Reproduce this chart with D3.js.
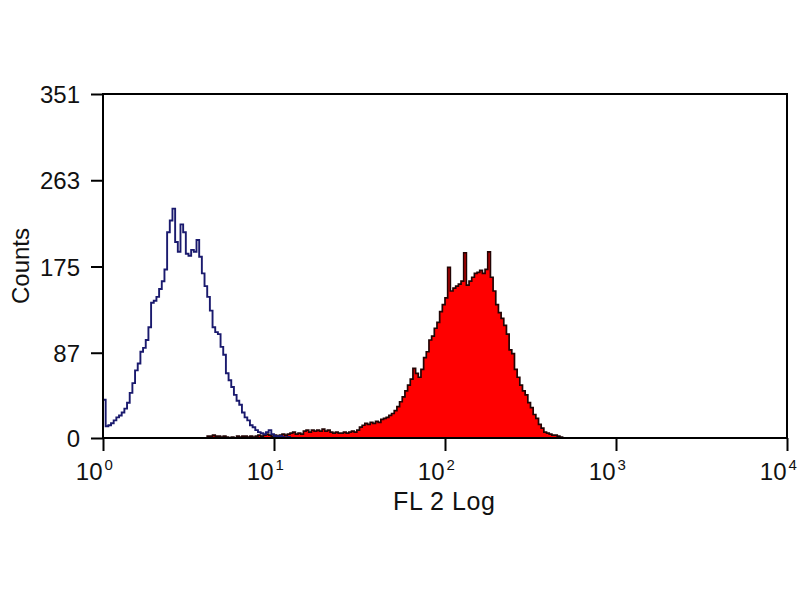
<!DOCTYPE html>
<html>
<head>
<meta charset="utf-8">
<script src="https://cdn.jsdelivr.net/npm/d3@7/dist/d3.min.js"></script>
<style>
  html, body { margin: 0; padding: 0; background: #fff; }
  svg { display: block; }
  text { font-family: "Liberation Sans", Arial, sans-serif; fill: #111; }
</style>
</head>
<body>
<svg id="chart" width="800" height="600"></svg>
<script>
// ---- data ----
const channelsTotal = 256;            // channels across the 4 decades
const xDomain = [1, 10000];
const yMax = 351;
const yTickValues = [0, 87, 175, 263, 351];
const xTickValues = [1, 10, 100, 1000, 10000];
const xTickExponents = ["0", "1", "2", "3", "4"];
const xTitle = "FL 2 Log";
const yTitle = "Counts";

// control (open, blue outline), channels starting at 0
const blueStart = 0;
const blueCounts = [
  39, 12, 13, 15, 18, 21, 23, 26, 30, 36,
  46, 56, 69, 76, 88, 92, 100, 113, 138, 140,
  144, 152, 160, 172, 210, 222, 234, 200, 190, 218,
  210, 188, 186, 192, 190, 202, 185, 168, 155, 144,
  130, 113, 108, 106, 93, 85, 66, 59, 52, 44,
  38, 34, 26, 21, 18, 13, 11, 8, 6, 5,
  4, 6, 8, 4, 2, 1, 2, 1, 0, 1, 0
];

// stained sample (filled red), channels starting at 39
const redStart = 39;
const redCounts = [
  2, 2, 3, 2, 2, 1, 2, 1, 0, 1,
  0, 2, 1, 2, 2, 1, 2, 1, 2, 3,
  2, 3, 4, 3, 2, 3, 2, 3, 4, 3,
  4, 5, 6, 4, 5, 4, 7, 8, 6, 8,
  7, 8, 7, 9, 7, 8, 6, 5, 6, 5,
  5, 6, 5, 6, 7, 6, 8, 11, 13, 15,
  14, 16, 15, 17, 16, 19, 20, 21, 23, 25,
  28, 32, 37, 42, 48, 54, 60, 71, 66, 62,
  70, 82, 88, 100, 104, 112, 118, 129, 136, 143,
  174, 150, 153, 155, 157, 160, 189, 156, 160, 164,
  168, 169, 171, 168, 172, 190, 164, 150, 136, 128,
  122, 115, 106, 90, 86, 70, 62, 54, 48, 44,
  36, 31, 24, 20, 14, 10, 6, 5, 4, 3,
  3, 2, 1, 0
];

// ---- layout ----
const svg = d3.select("#chart");
const pLeft = 103, pRight = 787, pTop = 94, pBottom = 438;

const x = d3.scaleLog().domain(xDomain).range([pLeft, pRight]);
const y = d3.scaleLinear().domain([0, yMax]).range([pBottom, pTop]);

const decades = Math.log10(xDomain[1] / xDomain[0]);
const edge = i => Math.pow(10, decades * i / channelsTotal) * xDomain[0];

function stepPoints(start, counts) {
  const pts = [{e: edge(start), c: 0}];
  counts.forEach((c, k) => pts.push({e: edge(start + k), c}));
  pts.push({e: edge(start + counts.length), c: 0});
  return pts;
}

const area = d3.area()
  .curve(d3.curveStepAfter)
  .x(d => x(d.e)).y0(y(0)).y1(d => y(d.c));
const line = d3.line()
  .curve(d3.curveStepAfter)
  .x(d => x(d.e)).y(d => y(d.c));

const redPts = stepPoints(redStart, redCounts);
svg.append("path").datum(redPts)
  .attr("d", area).attr("fill", "#ff0000");
svg.append("path").datum(redPts)
  .attr("d", line).attr("fill", "none")
  .attr("stroke", "#220404").attr("stroke-width", 1.7);

const bluePts = stepPoints(blueStart, blueCounts);
svg.append("path").datum(bluePts)
  .attr("d", line).attr("fill", "none")
  .attr("stroke", "#1a1a6e").attr("stroke-width", 1.9);

// frame
svg.append("rect")
  .attr("x", pLeft).attr("y", pTop)
  .attr("width", pRight - pLeft).attr("height", pBottom - pTop)
  .attr("fill", "none").attr("stroke", "#000").attr("stroke-width", 2);

// y axis
const yAxis = svg.append("g")
  .attr("transform", `translate(${pLeft},0)`)
  .call(d3.axisLeft(y).tickValues(yTickValues).tickSize(12).tickPadding(11));
yAxis.select(".domain").remove();
yAxis.selectAll("line").attr("stroke", "#000").attr("stroke-width", 2);
yAxis.selectAll("text")
  .style("font-size", "24px").style("font-family", "Liberation Sans, Arial, sans-serif")
  .attr("fill", "#111").attr("dy", "0.36em");

// x axis
const xAxis = svg.append("g")
  .attr("transform", `translate(0,${pBottom})`)
  .call(d3.axisBottom(x).tickValues(xTickValues).tickSize(13).tickFormat(""));
xAxis.select(".domain").remove();
xAxis.selectAll("line").attr("stroke", "#000").attr("stroke-width", 2);
xAxis.selectAll(".tick").each(function(d, i) {
  const g = d3.select(this);
  g.append("text")
    .attr("x", -1).attr("y", 42)
    .attr("text-anchor", "end")
    .style("font-size", "24px")
    .text("10");
  g.append("text")
    .attr("x", 1).attr("y", 32)
    .attr("text-anchor", "start")
    .style("font-size", "15px")
    .text(xTickExponents[i]);
});

// titles
svg.append("text")
  .attr("x", x(100) - 1).attr("y", 510)
  .attr("text-anchor", "middle")
  .style("font-size", "25px")
  .attr("textLength", 102)
  .text(xTitle);
svg.append("text")
  .attr("transform", `translate(29,${(pTop + pBottom) / 2}) rotate(-90)`)
  .attr("text-anchor", "middle")
  .style("font-size", "24px")
  .text(yTitle);
</script>
</body>
</html>
